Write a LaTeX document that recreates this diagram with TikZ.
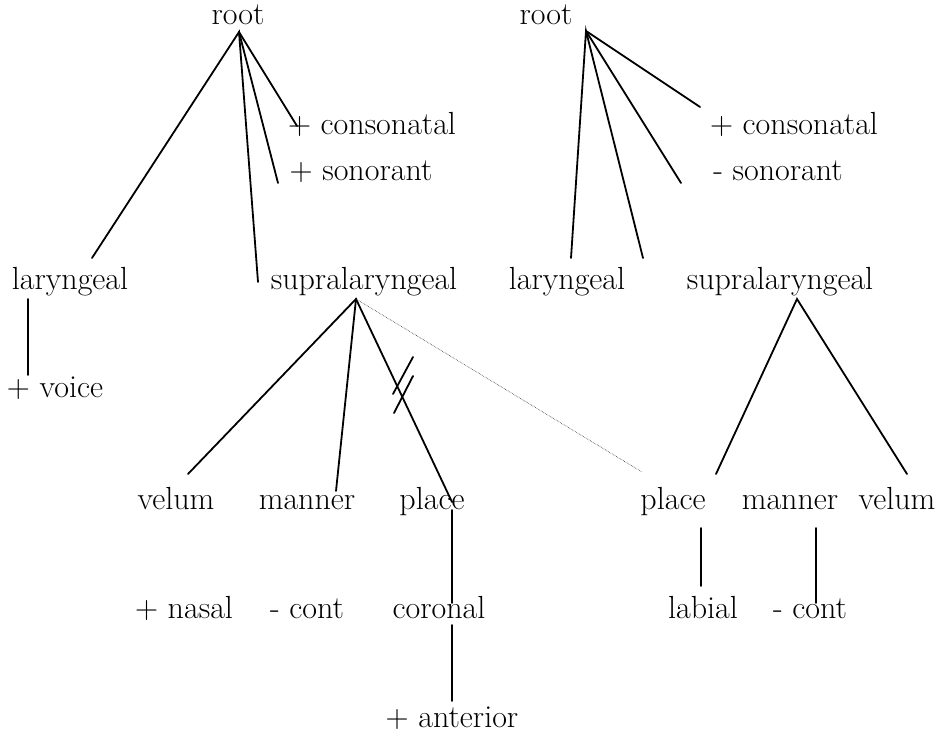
\documentclass[tikz,border=0pt]{standalone}
\begin{document}
\begin{tikzpicture}[x=1pt,y=-1pt,
  lbl/.style={inner sep=0pt, anchor=base, font=\fontsize{32}{38}\selectfont},
  edge/.style={line width=1.8pt, line cap=round},
  faint/.style={line width=0.6pt, densely dotted, black!80}]
\useasboundingbox (0,0) rectangle (941,733);

% ---------- left tree: labels ----------
\node[lbl] (rootL)   at (238,25)  {root};
\node[lbl] (consL)   at (372,135) {+ consonatal};
\node[lbl] (sonL)    at (361,180) {+ sonorant};
\node[lbl] (laryL)   at (70,289)  {laryngeal};
\node[lbl] (supraL)  at (364,289) {supralaryngeal};
\node[lbl] (voice)   at (55,397)  {+ voice};
\node[lbl] (velumL)  at (176,509) {velum};
\node[lbl] (mannerL) at (307,509) {manner};
\node[lbl] (placeL)  at (432,509) {place};
\node[lbl] (nasal)   at (184,618) {+ nasal};
\node[lbl] (contL)   at (307,618) {- cont};
\node[lbl] (coronal) at (439,618) {coronal};
\node[lbl] (anter)   at (452,727) {+ anterior};

% ---------- right tree: labels ----------
\node[lbl] (rootR)   at (546,25)  {root};
\node[lbl] (consR)   at (794,135) {+ consonatal};
\node[lbl] (sonR)    at (778,180) {- sonorant};
\node[lbl] (laryR)   at (567,289) {laryngeal};
\node[lbl] (supraR)  at (780,289) {supralaryngeal};
\node[lbl] (placeR)  at (673,509) {place};
\node[lbl] (mannerR) at (790,509) {manner};
\node[lbl] (velumR)  at (897,509) {velum};
\node[lbl] (labial)  at (703,618) {labial};
\node[lbl] (contR)   at (810,618) {- cont};

% ---------- attachment points ----------
\coordinate (rL)   at (239,32);
\coordinate (rLa)  at (92,258);
\coordinate (rLb)  at (258,282);
\coordinate (rLc)  at (278,183);
\coordinate (rLd)  at (297,126);
\coordinate (lvT)  at (28,299);
\coordinate (lvB)  at (28,375);
\coordinate (sL)   at (356,299);
\coordinate (sLa)  at (188,474);
\coordinate (sLb)  at (336,491);
\coordinate (sLc)  at (452,502);
\coordinate (pcT)  at (452,510);
\coordinate (pcB)  at (452,603);
\coordinate (caT)  at (452,625);
\coordinate (caB)  at (452,701);
\coordinate (cut1a) at (413,357);
\coordinate (cut1b) at (393,394);
\coordinate (cut2a) at (413,376);
\coordinate (cut2b) at (394,413);

\coordinate (rR)   at (586,31);
\coordinate (rRa)  at (571,258);
\coordinate (rRb)  at (643,258);
\coordinate (rRc)  at (681,183);
\coordinate (rRd)  at (700,107);
\coordinate (sR)   at (797,299);
\coordinate (sRa)  at (716,474);
\coordinate (sRb)  at (907,474);
\coordinate (plT)  at (701,528);
\coordinate (plB)  at (701,586);
\coordinate (mcT)  at (816,528);
\coordinate (mcB)  at (816,603);
\coordinate (dotE) at (642,472);

% ---------- left tree: branches ----------
\draw[edge] (rLa) -- (rL) -- (rLb);
\draw[edge] (rL) -- (rLc);
\draw[edge] (rL) -- (rLd);
\draw[edge] (lvT) -- (lvB);
\draw[edge] (sLa) -- (sL) -- (sLc);
\draw[edge] (sL) -- (sLb);
\draw[edge] (cut1a) -- (cut1b);
\draw[edge] (cut2a) -- (cut2b);
\draw[edge] (pcT) -- (pcB);
\draw[edge] (caT) -- (caB);
\draw[faint] (sL) -- (dotE);

% ---------- right tree: branches ----------
\draw[edge] (rRa) -- (rR) -- (rRb);
\draw[edge] (rR) -- (rRc);
\draw[edge] (rR) -- (rRd);
\draw[edge] (sRa) -- (sR) -- (sRb);
\draw[edge] (plT) -- (plB);
\draw[edge] (mcT) -- (mcB);
\end{tikzpicture}
\end{document}
